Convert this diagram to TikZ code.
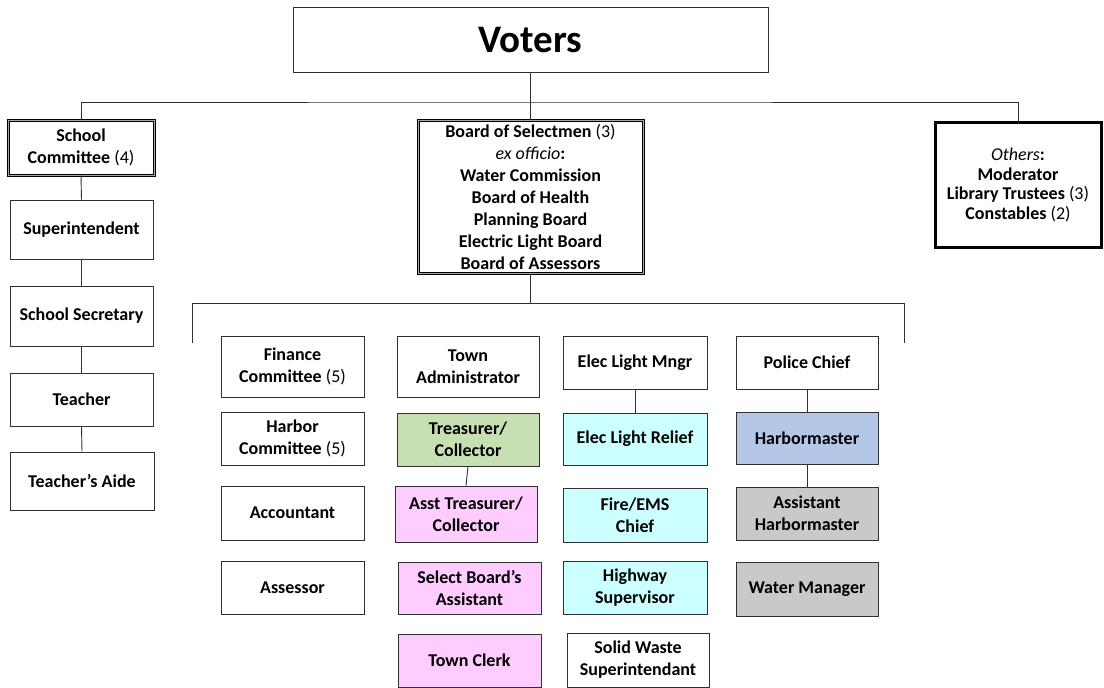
\documentclass[tikz,border=0pt]{standalone}
\usepackage{fontspec}
\setmainfont{Carlito}
\definecolor{cgreen}{HTML}{C6E0B4}
\definecolor{cpink}{HTML}{FFCCFF}
\definecolor{ccyan}{HTML}{CCFFFF}
\definecolor{cblue}{HTML}{B4C7E7}
\definecolor{cgray}{HTML}{C9C9C9}
\definecolor{cline}{HTML}{303030}
\begin{document}
\begin{tikzpicture}[x=1pt,y=-1pt,
  box/.style={draw=cline, line width=0.9pt, fill=white, align=center, inner sep=0pt,
    font=\fontsize{18}{22}\selectfont\bfseries},
  dbox/.style={box, draw=black, double=gray!70, double distance=1pt, line width=1pt},
  tbox/.style={box, draw=black, line width=3pt, font=\fontsize{18}{19.5}\selectfont\bfseries},
  conn/.style={draw=cline, line width=0.9pt},
  nb/.style={font=\mdseries}]
\useasboundingbox (0,0) rectangle (1104,688);

% top
\node[box, minimum width=475pt, minimum height=65pt, font=\fontsize{39}{44}\selectfont\bfseries] (voters) at (530.5,39.5) {Voters};
\node[dbox, minimum width=146pt, minimum height=55pt] (school) at (81,147.5) {School\\Committee {\mdseries(4)}};
\node[dbox, minimum width=225pt, minimum height=153pt] (board) at (530.5,196.5) {Board of Selectmen {\mdseries(3)}\\{\mdseries\itshape ex officio}:\\Water Commission\\Board of Health\\Planning Board\\Electric Light Board\\Board of Assessors};
\node[tbox, minimum width=166pt, minimum height=125pt] (others) at (1018,185) {{\mdseries\itshape Others}:\\Moderator\\Library Trustees {\mdseries(3)}\\Constables {\mdseries(2)}};

% school column
\node[box, minimum width=143pt, minimum height=59pt] (supt) at (81.5,229.5) {Superintendent};
\node[box, minimum width=143pt, minimum height=60pt] (secr) at (81.5,316) {School Secretary};
\node[box, minimum width=143pt, minimum height=53pt] (teacher) at (81.5,399.5) {Teacher};
\node[box, minimum width=144pt, minimum height=58pt] (aide) at (82,481) {Teacher’s Aide};

% column 1
\node[box, minimum width=143pt, minimum height=61pt] (finance) at (292.5,366.5) {Finance\\Committee {\mdseries(5)}};
\node[box, minimum width=143pt, minimum height=53pt] (harborc) at (292.5,438.5) {Harbor\\Committee {\mdseries(5)}};
\node[box, minimum width=143pt, minimum height=54pt] (accountant) at (292.5,513) {Accountant};
\node[box, minimum width=143pt, minimum height=53pt] (assessor) at (292.5,587.5) {Assessor};

% column 2
\node[box, minimum width=142pt, minimum height=61pt] (townadmin) at (468,366.5) {Town\\Administrator};
\node[box, fill=cgreen, minimum width=142pt, minimum height=53pt] (treas) at (468,439.5) {Treasurer/\\Collector};
\node[box, fill=cpink, minimum width=142pt, minimum height=56pt] (assttreas) at (466,514) {Asst Treasurer/\\Collector};
\node[box, fill=cpink, minimum width=143pt, minimum height=52pt] (selasst) at (469.5,588) {Select Board’s\\Assistant};
\node[box, fill=cpink, minimum width=143pt, minimum height=53pt] (clerk) at (469.5,660.5) {Town Clerk};

% column 3
\node[box, minimum width=144pt, minimum height=53pt] (elecm) at (635,362.5) {Elec Light Mngr};
\node[box, fill=ccyan, minimum width=144pt, minimum height=52pt] (elecr) at (635,439) {Elec Light Relief};
\node[box, fill=ccyan, minimum width=144pt, minimum height=54pt] (fire) at (635,515) {Fire/EMS\\Chief};
\node[box, fill=ccyan, minimum width=144pt, minimum height=53pt] (highway) at (635,587.5) {Highway\\Supervisor};
\node[box, minimum width=142pt, minimum height=54pt] (solid) at (638,660) {Solid Waste\\Superintendant};

% column 4
\node[box, minimum width=142pt, minimum height=53pt] (police) at (807,362.5) {Police Chief};
\node[box, fill=cblue, minimum width=142pt, minimum height=52pt] (harborm) at (807,438) {Harbormaster};
\node[box, fill=cgray, minimum width=142pt, minimum height=53pt] (assth) at (807,513.5) {Assistant\\Harbormaster};
\node[box, fill=cgray, minimum width=142pt, minimum height=54pt] (water) at (807,589) {Water Manager};

% connectors
\coordinate (bus) at (530.5,102);
\coordinate (bl) at (192,343);
\coordinate (blt) at (192,303);
\coordinate (br) at (904,343);
\coordinate (brt) at (904,303);
\begin{scope}[on background layer/.try]
\end{scope}
\draw[conn] (school.north) |- (bus) -| (others.north);
\draw[conn] (voters.south) -- (board.north);
\draw[conn] (school.south) -- (supt.north);
\draw[conn] (supt.south) -- (secr.north);
\draw[conn] (secr.south) -- (teacher.north);
\draw[conn] (teacher.south) -- (aide.north);
\draw[conn] (bl) -- (blt) -- (brt) -- (br);
\draw[conn] (board.south) -- (board.south |- blt);
\draw[conn] (treas.south) -- (assttreas.north);
\draw[conn] (elecm.south) -- (elecr.north);
\draw[conn] (police.south) -- (harborm.north);
\draw[conn] (harborm.south) -- (assth.north);
\end{tikzpicture}
\end{document}
